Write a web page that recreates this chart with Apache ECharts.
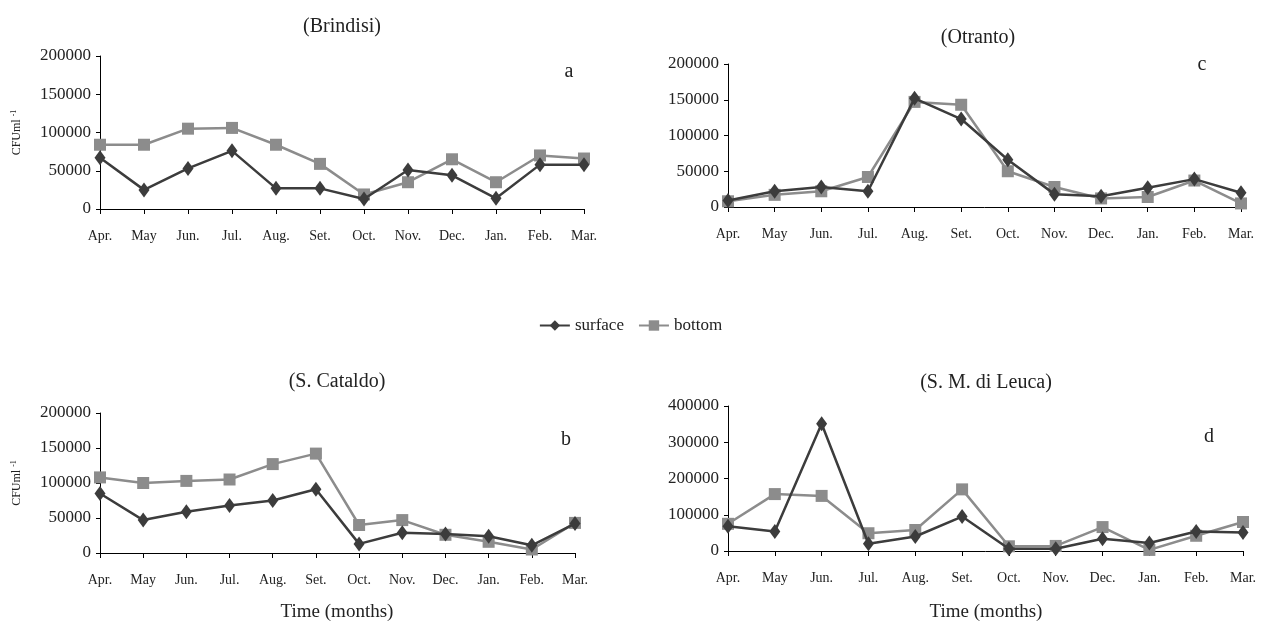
<!DOCTYPE html>
<html>
<head>
<meta charset="utf-8">
<script src="https://cdn.jsdelivr.net/npm/echarts@6/dist/echarts.min.js"></script>
<style>
html,body{margin:0;padding:0;background:#fff;}
#chart{width:1261px;height:622px;}
</style>
</head>
<body>
<div id="chart"></div>
<script>
var months = ['Apr.','May','Jun.','Jul.','Aug.','Set.','Oct.','Nov.','Dec.','Jan.','Feb.','Mar.'];

var brindisiSurface = [67000,25000,53000,76000,27000,27000,13000,51000,44000,14000,58000,58000];
var brindisiBottom  = [84000,84000,105000,106000,84000,59000,19000,35000,65000,35000,70000,66000];
var otrantoSurface  = [9000,22000,28000,22000,152000,123000,66000,18000,15000,27000,39000,20000];
var otrantoBottom   = [8000,17000,22000,42000,147000,143000,50000,28000,12000,14000,37000,5000];
var cataldoSurface  = [85000,47000,59000,68000,75000,91000,13000,29000,27000,24000,11000,42000];
var cataldoBottom   = [108000,100000,103000,105000,127000,142000,40000,47000,26000,16000,5000,43000];
var leucaSurface    = [68000,54000,351000,20000,40000,95000,6000,6000,34000,22000,54000,51000];
var leucaBottom     = [75000,157000,152000,49000,58000,170000,13000,14000,66000,3000,42000,80000];

var panelTitles = ['(Brindisi)','(Otranto)','(S. Cataldo)','(S. M. di Leuca)'];
var panelLetters = ['a','c','b','d'];
var seriesNames = ['surface','bottom'];

var FONT = 'Liberation Serif';
var TXT = '#222';
var DARK = '#3c3c3c';
var LIGHT = '#8c8c8c';

var grids = [
  {left:100, top:56, width:484, height:153},
  {left:728, top:64, width:513, height:143},
  {left:100, top:413, width:475, height:140},
  {left:728, top:406, width:515, height:145}
];
var yMax = [200000,200000,200000,400000];
var yInt = [50000,50000,50000,100000];
var data = [
  [brindisiSurface, brindisiBottom],
  [otrantoSurface, otrantoBottom],
  [cataldoSurface, cataldoBottom],
  [leucaSurface, leucaBottom]
];

var xAxes = [], yAxes = [], series = [];
grids.forEach(function(g, i){
  xAxes.push({
    type:'category', gridIndex:i, data:months, boundaryGap:false,
    axisLine:{lineStyle:{color:'#000', width:1}},
    axisTick:{show:true, length:5, lineStyle:{color:'#000'}},
    axisLabel:{interval:0, margin:20, fontFamily:FONT, fontSize:14, color:TXT},
    splitLine:{show:false}
  });
  var y = {
    type:'value', gridIndex:i, min:0, max:yMax[i], interval:yInt[i],
    axisLine:{show:true, lineStyle:{color:'#000', width:1}},
    axisTick:{show:true, length:4, lineStyle:{color:'#000'}},
    axisLabel:{margin:9, fontFamily:FONT, fontSize:17, color:TXT,
      formatter:function(v){ return String(v); }},
    splitLine:{show:false}
  };
  if (i === 0 || i === 2) {
    y.name = 'CFUml {s|-1}';
    y.nameLocation = 'middle';
    y.nameRotate = 90;
    y.nameGap = 76;
    y.nameTextStyle = {fontFamily:FONT, fontSize:12, color:TXT,
      rich:{s:{fontFamily:FONT, fontSize:8, color:TXT, verticalAlign:'top', padding:[0,0,6,0]}}};
  }
  yAxes.push(y);
  series.push({
    name:seriesNames[0], type:'line', xAxisIndex:i, yAxisIndex:i, data:data[i][0],
    symbol:'diamond', symbolSize:[11,15], lineStyle:{color:DARK, width:2.5},
    itemStyle:{color:DARK}, animation:false, z:3
  });
  series.push({
    name:seriesNames[1], type:'line', xAxisIndex:i, yAxisIndex:i, data:data[i][1],
    symbol:'rect', symbolSize:12, lineStyle:{color:LIGHT, width:2.5},
    itemStyle:{color:LIGHT}, animation:false, z:2
  });
});

var titlePos = [
  {x:342, y:27}, {x:978, y:38}, {x:337, y:382}, {x:986, y:383}
];
var letterPos = [
  {x:569, y:72}, {x:1202, y:65}, {x:566, y:440}, {x:1209, y:437}
];
var graphics = [];
titlePos.forEach(function(p, i){
  graphics.push({type:'text', x:p.x, y:p.y, style:{text:panelTitles[i], font:'20px "Liberation Serif"', fill:TXT, textAlign:'center', textVerticalAlign:'middle'}});
  graphics.push({type:'text', x:letterPos[i].x, y:letterPos[i].y, style:{text:panelLetters[i], font:'20px "Liberation Serif"', fill:TXT, textAlign:'center', textVerticalAlign:'middle'}});
});
graphics.push({type:'text', x:337, y:612, style:{text:'Time (months)', font:'19px "Liberation Serif"', fill:TXT, textAlign:'center', textVerticalAlign:'middle'}});
graphics.push({type:'text', x:986, y:612, style:{text:'Time (months)', font:'19px "Liberation Serif"', fill:TXT, textAlign:'center', textVerticalAlign:'middle'}});

var chart = echarts.init(document.getElementById('chart'), null, {renderer:'canvas'});
chart.setOption({
  backgroundColor:'#fff',
  animation:false,
  legend:{
    data:seriesNames, left:'center', top:312, itemWidth:30, itemHeight:13, itemGap:14,
    textStyle:{fontFamily:FONT, fontSize:17, color:TXT}
  },
  grid:grids,
  xAxis:xAxes,
  yAxis:yAxes,
  series:series,
  graphic:graphics
});
</script>
</body>
</html>
